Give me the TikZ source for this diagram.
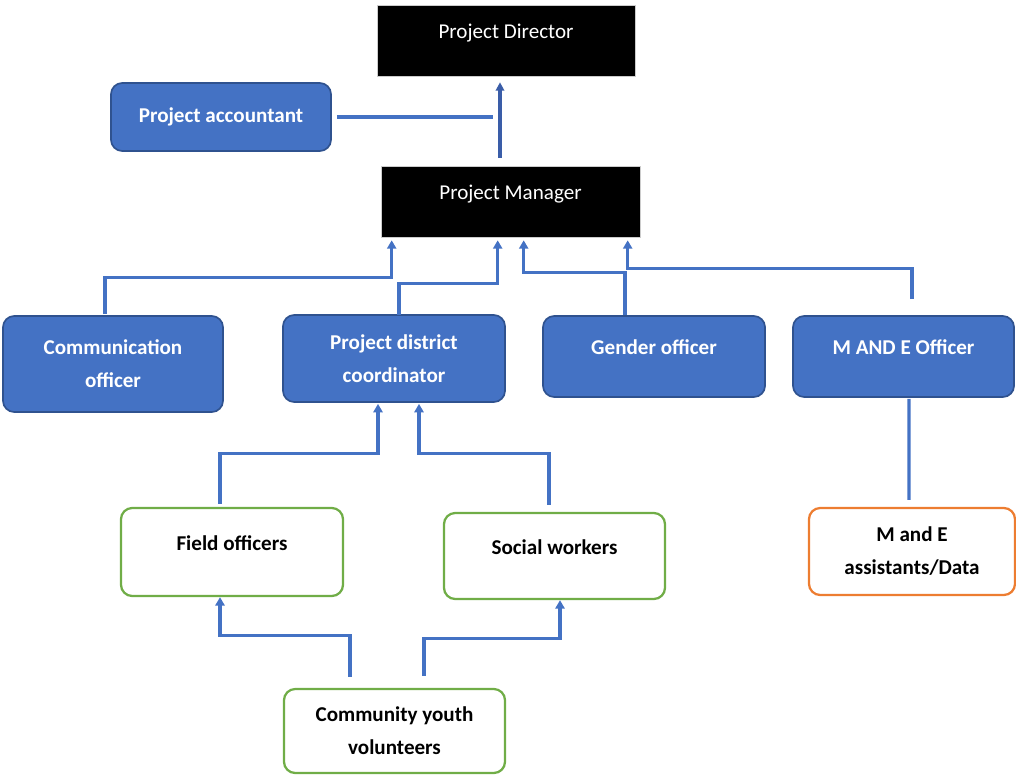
\documentclass[tikz,border=0pt]{standalone}
\usepackage{fontspec}
\setmainfont{Carlito}
\usetikzlibrary{arrows.meta,calc}

\definecolor{boxblue}{HTML}{4472C4}
\definecolor{edgeblue}{HTML}{2F528F}
\definecolor{linkblue}{HTML}{4472C4}
\definecolor{topblue}{HTML}{3A5DA8}
\definecolor{okgreen}{HTML}{70AD47}
\definecolor{meorange}{HTML}{ED7D31}

\tikzset{
    headbox/.style={draw=gray!40, fill=black, text=white, minimum width=6.45cm,
        minimum height=1.775cm, font=\fontsize{15}{18}\selectfont},
    staffbox/.style={draw=edgeblue, line width=1.2pt, fill=boxblue, text=white,
        rounded corners=8pt, align=center, font=\bfseries\fontsize{15}{23.5}\selectfont},
    fieldbox/.style={draw=okgreen, line width=1.6pt, fill=white, text=black,
        rounded corners=8pt, align=center, font=\bfseries\fontsize{15}{23.5}\selectfont},
    raised/.style={text depth=0.45cm},
    link/.style={draw=linkblue, line width=2.2pt},
    arr/.style={link, -{Triangle[length=6pt,width=6.5pt]}},
}

\begin{document}
\begin{tikzpicture}[x=0.025cm, y=-0.025cm]
    \useasboundingbox (0,0) rectangle (1016,775);

    % top of the chart
    \node[headbox, raised] (pd) at (506,40.5) {Project Director};
    \node[headbox, raised, minimum width=6.475cm] (pm) at (510.5,201.5) {Project Manager};
    \node[staffbox, minimum width=5.5cm, minimum height=1.7cm] (acct) at (221,117) {Project accountant};

    % second row
    \node[staffbox, minimum width=5.5cm, minimum height=2.4cm] (comm) at (113,364) {Communication\\officer};
    \node[staffbox, minimum width=5.55cm, minimum height=2.175cm] (pdc) at (394,358.5) {Project district\\coordinator};
    \node[staffbox, raised, minimum width=5.55cm, minimum height=2.025cm] (gender) at (654,356.5) {Gender officer};
    \node[staffbox, raised, minimum width=5.525cm, minimum height=2.025cm] (meo) at (903.5,356.5) {M AND E Officer};

    % field level
    \node[fieldbox, raised, minimum width=5.55cm, minimum height=2.2cm] (field) at (232,552) {Field officers};
    \node[fieldbox, raised, minimum width=5.525cm, minimum height=2.15cm] (social) at (554.5,556) {Social workers};
    \node[fieldbox, minimum width=5.525cm, minimum height=2.1cm] (cyv) at (394.5,731) {Community youth\\volunteers};
    \node[fieldbox, draw=meorange, minimum width=5.15cm, minimum height=2.175cm] (mea) at (912,551.5) {M and E\\assistants/Data};

    % links
    \draw[link, line width=3pt, draw=topblue, -{Triangle[length=6pt,width=6pt]}]
        ($(pm.north)+(-10.5,-8)$) -- ($(pd.south)+(-6,6)$);
    \draw[link] ($(acct.east)+(5,0)$) -- ++(156,0);
    \draw[arr] ($(comm.north)+(-8,-1)$) |- ($(pm.south west)+(11,40)$) -- ($(pm.south west)+(11,3)$);
    \draw[arr] ($(pdc.north)+(5,1)$) |- ($(pm.south west)+(117,46)$) -- ($(pm.south west)+(117,3)$);
    \draw[arr] ($(gender.north)+(-29,0)$) |- ($(pm.south west)+(143,35)$) -- ($(pm.south west)+(143,3)$);
    \draw[arr] ($(meo.north)+(8.5,-16)$) |- ($(pm.south west)+(247,31)$) -- ($(pm.south west)+(247,3)$);
    \draw[link] ($(meo.south)+(5.5,1)$) -- ($(mea.north)+(-3,-7)$);
    \draw[arr] ($(field.north)+(-12,-3)$) |- ($(pdc.south)+(-16,51)$) -- ($(pdc.south)+(-16,1)$);
    \draw[arr] ($(social.north)+(-5.5,-7)$) |- ($(pdc.south)+(25,51)$) -- ($(pdc.south)+(25,1)$);
    \draw[arr] ($(cyv.north)+(-44.5,-11)$) |- ($(field.south)+(-12,38)$) -- ($(field.south)+(-12,0)$);
    \draw[arr] ($(cyv.north)+(29.5,-12)$) |- ($(social.south)+(5.5,38)$) -- ($(social.south)+(5.5,0)$);
\end{tikzpicture}
\end{document}
